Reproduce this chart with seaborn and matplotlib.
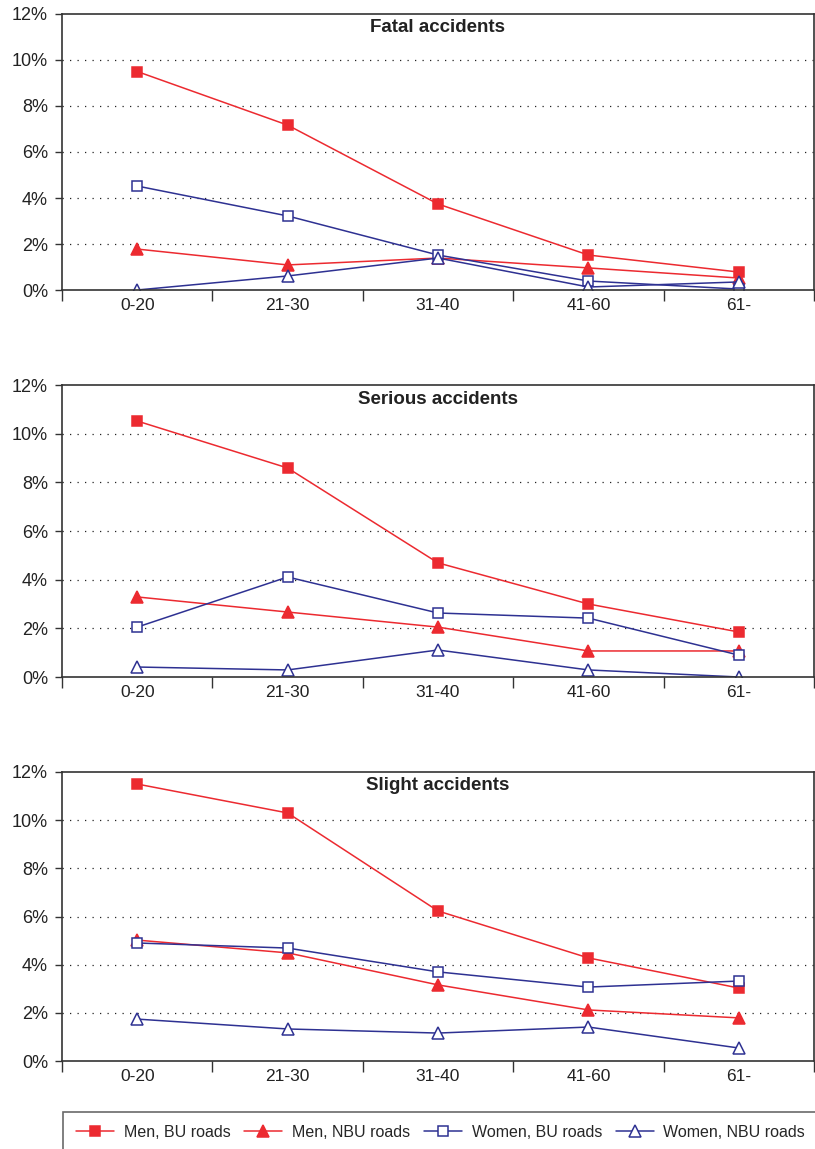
import matplotlib
matplotlib.use("Agg")
import matplotlib.pyplot as plt
from matplotlib.ticker import PercentFormatter, FixedLocator
import seaborn as sns
import numpy as np
import pandas as pd

sns.set_theme(style="white")
plt.rcParams['font.family'] = ['Liberation Sans', 'DejaVu Sans']

# data (percent)
ages = ["0-20", "21-30", "31-40", "41-60", "61-"]
panel_titles = ["Fatal accidents", "Serious accidents", "Slight accidents"]
series_names = ["Men, BU roads", "Men, NBU roads", "Women, BU roads", "Women, NBU roads"]

fatal_men_bu = [9.5, 7.17, 3.74, 1.52, 0.78]
fatal_men_nbu = [1.78, 1.09, 1.39, 0.96, 0.52]
fatal_women_bu = [4.52, 3.22, 1.52, 0.39, 0.04]
fatal_women_nbu = [0.0, 0.61, 1.39, 0.13, 0.35]

serious_men_bu = [10.52, 8.59, 4.69, 3.0, 1.85]
serious_men_nbu = [3.29, 2.67, 2.05, 1.07, 1.07]
serious_women_bu = [2.05, 4.11, 2.63, 2.42, 0.9]
serious_women_nbu = [0.41, 0.29, 1.11, 0.29, 0.0]

slight_men_bu = [11.5, 10.3, 6.23, 4.28, 3.03]
slight_men_nbu = [5.02, 4.49, 3.16, 2.12, 1.79]
slight_women_bu = [4.9, 4.69, 3.7, 3.07, 3.32]
slight_women_nbu = [1.74, 1.33, 1.16, 1.41, 0.54]

panels = [
    [fatal_men_bu, fatal_men_nbu, fatal_women_bu, fatal_women_nbu],
    [serious_men_bu, serious_men_nbu, serious_women_bu, serious_women_nbu],
    [slight_men_bu, slight_men_nbu, slight_women_bu, slight_women_nbu],
]

red = "#EC2A30"
blue = "#2E3192"
styles = [
    dict(color=red, marker="s", markerfacecolor=red, markeredgecolor=red, markersize=7.5),
    dict(color=red, marker="^", markerfacecolor=red, markeredgecolor=red, markersize=8),
    dict(color=blue, marker="s", markerfacecolor="white", markeredgecolor=blue, markersize=7.5),
    dict(color=blue, marker="^", markerfacecolor="white", markeredgecolor=blue, markersize=8),
]

W, H = 815, 1149
fig = plt.figure(figsize=(W / 100, H / 100), dpi=100)

# axes boxes in pixels: (top, bottom)
boxes = [(14, 290), (385, 677), (772, 1061)]
left_px, right_px = 62, 814

pos = np.arange(len(ages))
handles = None
for k, (top, bot) in enumerate(boxes):
    ax = fig.add_axes([left_px / W, 1 - bot / H, (right_px - left_px) / W, (bot - top) / H])
    for name, vals, st in zip(series_names, panels[k], styles):
        df = pd.DataFrame({"pos": pos, "value": vals})
        sns.lineplot(data=df, x="pos", y="value", ax=ax, label=name,
                     linewidth=1.1, markeredgewidth=1.1, **st)
    ax.set_xlim(-0.5, len(ages) - 0.5)
    ax.set_ylim(0, 12)
    ax.set_yticks(np.arange(0, 13, 2))
    ax.yaxis.set_major_formatter(PercentFormatter(decimals=0))
    ax.set_xticks(pos)
    ax.set_xticklabels(ages)
    ax.xaxis.set_minor_locator(FixedLocator(np.arange(-0.5, len(ages), 1)))
    ax.tick_params(axis="x", which="major", length=0, pad=6, labelsize=12.5, colors="#222222")
    ax.tick_params(axis="x", which="minor", length=8, width=1, direction="out", bottom=True, color="#333333")
    ax.tick_params(axis="y", length=5, width=1, direction="out", left=True, pad=5, labelsize=13, colors="#333333", labelcolor="#222222")
    ax.set_xlabel("")
    ax.set_ylabel("")
    ax.grid(False)
    for y in [2, 4, 6, 8, 10]:
        ax.axhline(y, color="#222222", linestyle=(0, (1, 5)), linewidth=0.9, zorder=0)
    for sp in ax.spines.values():
        sp.set_visible(True)
        sp.set_color("#333333")
        sp.set_linewidth(1.2)
    ax.annotate(panel_titles[k], xy=(0.5, 1), xycoords="axes fraction",
                xytext=(0, -14), textcoords="offset pixels",
                ha="center", va="center", fontsize=13.5, fontweight="bold", color="#222222")
    if handles is None:
        handles, labels = ax.get_legend_handles_labels()
    ax.get_legend().remove()

leg = fig.legend(handles, labels, loc="upper left", bbox_to_anchor=(63 / W, 1 - 1112 / H),
                 ncol=4, frameon=True, fancybox=False, fontsize=11.5,
                 handlelength=2.4, handletextpad=0.6, columnspacing=0.85, borderpad=0.8,
                 borderaxespad=0)
leg.get_frame().set_edgecolor("#444444")
leg.get_frame().set_linewidth(1.2)

fig.savefig("out.png", dpi=100)
